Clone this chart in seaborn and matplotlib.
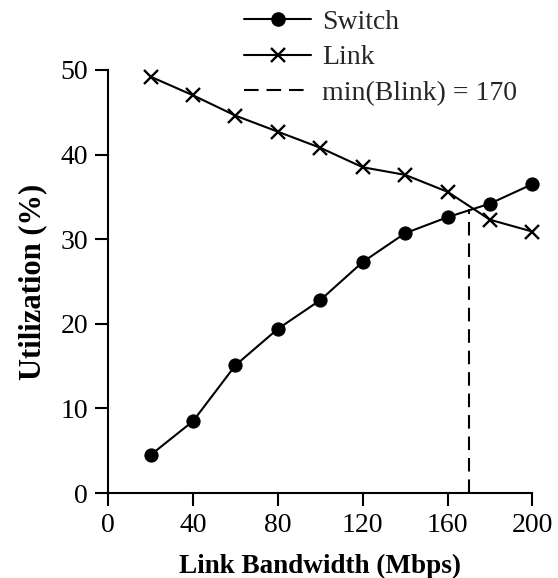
import matplotlib
matplotlib.use("Agg")
import matplotlib.pyplot as plt
import seaborn as sns
import pandas as pd
from matplotlib.lines import Line2D

bandwidth = [20, 40, 60, 80, 100, 120, 140, 160, 180, 200]
switch_util = [4.5, 8.5, 15.1, 19.4, 22.8, 27.3, 30.7, 32.6, 34.2, 36.5]
link_util = [49.2, 47.0, 44.6, 42.7, 40.8, 38.5, 37.6, 35.6, 32.3, 30.9]
blink_min = 170
blink_util = 33.6
x_ticks = [0, 40, 80, 120, 160, 200]
y_ticks = [0, 10, 20, 30, 40, 50]

sns.set_theme(style="ticks")
plt.rcParams['font.family'] = ['Liberation Serif', 'DejaVu Serif']

fig = plt.figure(figsize=(5.58, 5.78), dpi=100)
ax = fig.add_axes([0.194, 0.147, 0.760, 0.732])

df_s = pd.DataFrame({"x": bandwidth, "y": switch_util})
df_l = pd.DataFrame({"x": bandwidth, "y": link_util})
sns.lineplot(data=df_s, x="x", y="y", ax=ax, color="black", marker="o",
             markersize=9.5, markeredgecolor="black", linewidth=1.5, clip_on=False)
sns.lineplot(data=df_l, x="x", y="y", ax=ax, color="black", marker="x",
             markersize=9.5, markeredgewidth=1.7, markeredgecolor="black", linewidth=1.5,
             clip_on=False)
ax.plot([blink_min, blink_min], [0, blink_util], color="black",
        linestyle=(0, (6.5, 3.8)), linewidth=1.5)

ax.set_xlim(0, 200)
ax.set_ylim(0, 50)
ax.set_xticks(x_ticks)
ax.set_yticks(y_ticks)
ax.tick_params(axis="both", direction="out", length=9.5, width=1.5, color="black",
               labelsize=20, labelcolor="black", pad=5)
for s in ["top", "right"]:
    ax.spines[s].set_visible(False)
for s in ["left", "bottom"]:
    ax.spines[s].set_linewidth(1.5)
    ax.spines[s].set_color("black")

ax.set_xlabel("Link Bandwidth (Mbps)", fontsize=19.5, fontweight="bold", color="black", labelpad=11)
ax.set_ylabel("Utilization (%)", fontsize=22, fontweight="bold", color="black", labelpad=9.5)

handles = [
    Line2D([], [], color="black", marker="o", markersize=9.5, linewidth=1.5),
    Line2D([], [], color="black", marker="x", markersize=9.5, markeredgewidth=1.7, linewidth=1.5),
    Line2D([], [], color="black", linestyle=(0, (7, 3.8)), linewidth=1.5),
]
labels = ["Switch", "Link", f"min(Blink) = {blink_min}"]
fig.legend(handles, labels, loc="upper left", bbox_to_anchor=(0.418, 1.003),
           frameon=False, fontsize=20, handlelength=2.4, handletextpad=0.4,
           labelspacing=0.36, borderaxespad=0)

fig.savefig("out.png", dpi=100)
